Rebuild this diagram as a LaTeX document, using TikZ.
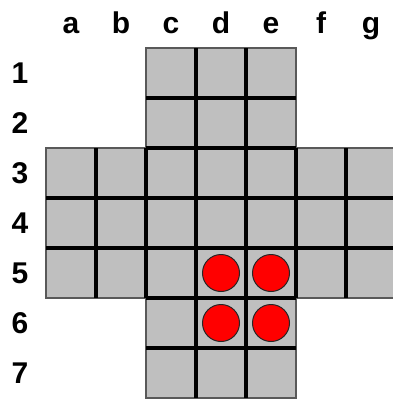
\documentclass[tikz,border=0pt]{standalone}
\usepackage{fontspec}
\setmainfont{Liberation Sans}
\usetikzlibrary{positioning}

\begin{document}
\begin{tikzpicture}[
  x=1pt, y=-1pt,
  cell/.style={draw=black!65, line width=1.2pt, fill=black!25, minimum size=50pt, inner sep=0pt, outer sep=0pt},
  peg/.style={circle, draw=black!85, line width=1pt, fill=red, minimum size=37pt, inner sep=0pt},
  coltext/.style={font=\fontsize{30}{36}\selectfont\bfseries, anchor=base, inner sep=0pt},
  rowtext/.style={font=\fontsize{30}{36}\selectfont\bfseries, anchor=base, inner sep=0pt},
  groove/.style={line width=3.5pt, black}
]
\useasboundingbox (0,0) rectangle (393,400);

% labels
\foreach \col [count=\i from 0] in {a,...,g}
  \node[coltext] (col-\col) at (71+50*\i, 33) {\col};
\foreach \row in {1,...,7}
  \node[rowtext] (row-\row) at (20, 33+50*\row) {\row};

% board
\foreach \col/\i in {c/2,d/3,e/4}
  \foreach \row in {1,...,7}
    \node[cell] (cell-\col\row) at (71+50*\i, 23+50*\row) {};
\foreach \col/\i in {a/0,b/1,f/5,g/6}
  \foreach \row in {3,4,5}
    \node[cell] (cell-\col\row) at (71+50*\i, 23+50*\row) {};

% grooves between cells
\foreach \row in {1,2,5,6}
  \draw[groove] (cell-c\row.south west) -- (cell-e\row.south east);
\foreach \row in {3,4}
  \draw[groove] (cell-a\row.south west) -- (cell-g\row.south east);
\foreach \col in {c,d}
  \draw[groove] (cell-\col1.north east) -- (cell-\col7.south east);
\foreach \col in {a,b,e,f}
  \draw[groove] (cell-\col3.north east) -- (cell-\col5.south east);

% pegs
\foreach \col in {d,e}
  \foreach \row in {5,6}
    \node[peg] (peg-\col\row) at (cell-\col\row) {};
\end{tikzpicture}
\end{document}
